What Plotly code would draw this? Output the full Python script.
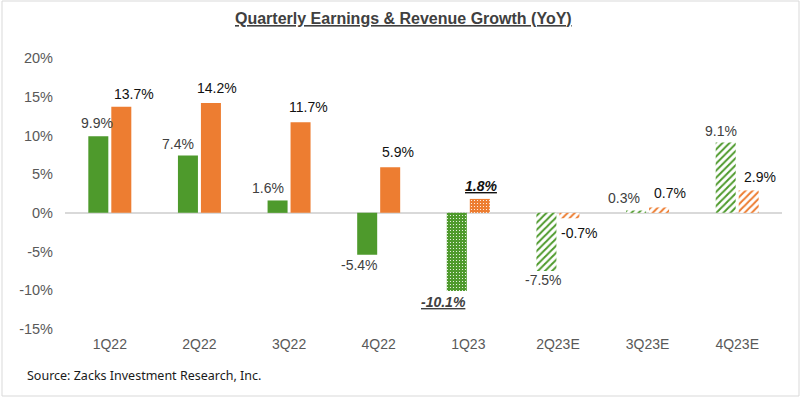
import plotly.graph_objects as go

categories = ["1Q22", "2Q22", "3Q22", "4Q22", "1Q23", "2Q23E", "3Q23E", "4Q23E"]
earnings_growth = [9.9, 7.4, 1.6, -5.4, -10.1, -7.5, 0.3, 9.1]
revenue_growth = [13.7, 14.2, 11.7, 5.9, 1.8, -0.7, 0.7, 2.9]
y_ticks = [-15, -10, -5, 0, 5, 10, 15, 20]

GREEN = "#4E9A2C"
ORANGE = "#ED7D31"
W, H = 800, 397
L, R, T, B = 65, 18, 58, 68

# bar styling: actual (solid), reported (dots), estimates (stripes)
kind = ["solid", "solid", "solid", "solid", "dots", "stripe", "stripe", "stripe"]

# label placement (pixel offsets of each data label from its category centre / bar end)
earn_label_dx = [-13, -21, -21, -19, -25, -14, -24, -16]
earn_label_dy = [13, 12, 12, 10, 11, 9, 13, 11]
rev_label_dx = [24, 18, 19, 19, 13, 22, 22, 23]
rev_label_dy = [13, 15, 15, 15, 13, 15, 14, 13]


def pattern(color):
    shapes, fg, bg, size, sol = [], [], [], [], []
    for k in kind:
        if k == "solid":
            shapes.append(""); fg.append(color); bg.append(color); size.append(6); sol.append(0.3)
        elif k == "dots":
            shapes.append("."); fg.append("white"); bg.append(color); size.append(3); sol.append(0.12)
        else:
            shapes.append("/"); fg.append(color); bg.append("white"); size.append(5); sol.append(0.4)
    return dict(shape=shapes, fgcolor=fg, bgcolor=bg, size=size, solidity=sol, fillmode="replace")


def label(v, k):
    s = f"{v:.1f}%"
    if k == "dots":
        s = f"<b><i><u>{s}</u></i></b>"
    return s


fig = go.Figure()
fig.add_trace(go.Bar(
    x=categories, y=earnings_growth, name="Earnings",
    marker=dict(color=GREEN, line=dict(width=0), pattern=pattern(GREEN)),
    hoverinfo="skip",
))
fig.add_trace(go.Bar(
    x=categories, y=revenue_growth, name="Revenue",
    marker=dict(color=ORANGE, line=dict(width=0), pattern=pattern(ORANGE)),
    hoverinfo="skip",
))

for vals, dxs, dys, col in [(earnings_growth, earn_label_dx, earn_label_dy, "#404040"),
                            (revenue_growth, rev_label_dx, rev_label_dy, "#111111")]:
    for c, v, k, dx, dy in zip(categories, vals, kind, dxs, dys):
        fig.add_annotation(x=c, y=v, xref="x", yref="y", text=label(v, k),
                           showarrow=False, xanchor="center", yanchor="middle",
                           xshift=dx, yshift=dy if v >= 0 else -dy,
                           font=dict(family="Liberation Sans, Arial", size=14, color=col))

pw = W - L - R
ph = H - T - B
fig.add_shape(type="rect", xref="paper", yref="paper",
              x0=(2 - L) / pw, x1=(W - 1 - L) / pw,
              y0=-(H - 1 - T - ph) / ph, y1=1 + (T - 1) / ph,
              line=dict(color="#D9D9D9", width=1), layer="below")

fig.add_annotation(text="<b><u>Quarterly Earnings & Revenue Growth (YoY)</u></b>",
                   xref="paper", yref="paper", x=(403 - L) / pw, y=1 + (T - 18) / ph,
                   showarrow=False, xanchor="center", yanchor="middle",
                   font=dict(family="Liberation Sans, Arial", size=16, color="#404040"))
fig.add_annotation(text="Source: Zacks Investment Research, Inc.",
                   xref="paper", yref="paper", x=(25 - L) / pw, y=-(375 - T - ph) / ph,
                   showarrow=False, xanchor="left", yanchor="middle",
                   font=dict(family="Noto Sans, Open Sans", size=12.5, color="#1a1a1a"))

fig.update_layout(
    width=W, height=H,
    margin=dict(l=L, r=R, t=T, b=B, pad=0),
    paper_bgcolor="white", plot_bgcolor="white",
    barmode="group", bargap=0.487, bargroupgap=0.13,
    showlegend=False,
    font=dict(family="Liberation Sans, Arial", size=14, color="#595959"),
)
fig.update_xaxes(showgrid=False, showline=False, ticks="", zeroline=False,
                 ticklabelstandoff=5,
                 tickfont=dict(size=14, color="#595959"))
fig.update_yaxes(range=[-15, 20], tickvals=y_ticks,
                 ticktext=[f"{v}%" for v in y_ticks],
                 showgrid=False, showline=False, ticks="",
                 zeroline=True, zerolinecolor="#D9D9D9", zerolinewidth=1.5,
                 ticklabelstandoff=11,
                 tickfont=dict(size=14.5, color="#595959"))

fig.write_html("out.html", config={"displayModeBar": False},
               post_script="document.body.style.margin='0';document.body.style.overflow='hidden';")
